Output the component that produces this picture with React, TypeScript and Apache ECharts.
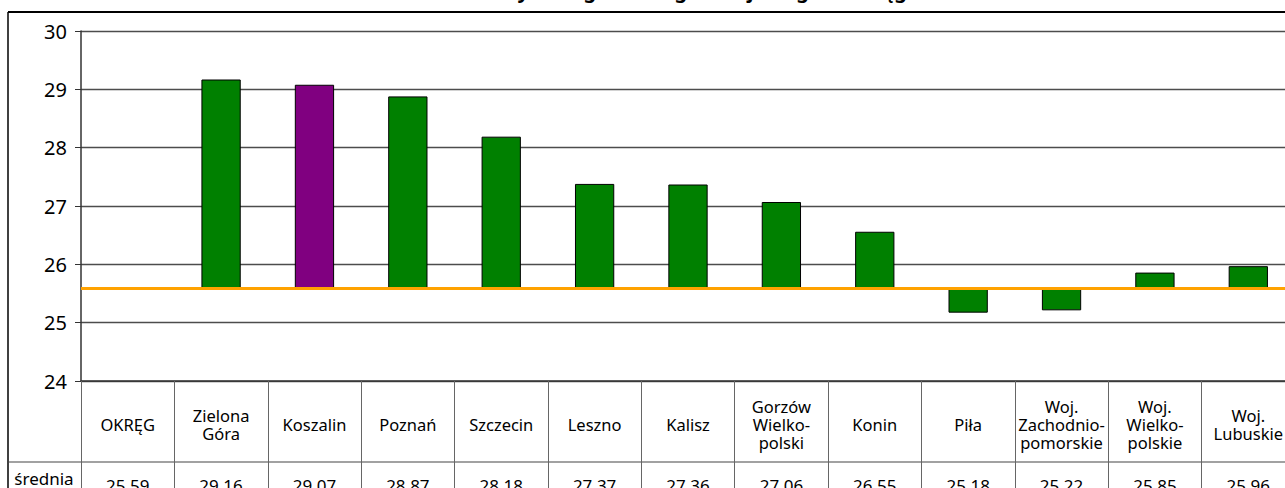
import React, { useEffect, useRef } from "react";
import * as echarts from "echarts";

const titleText = "Średnie wyniki egzaminu gimnazjalnego w okręgu";
const categories = [
  "OKRĘG",
  "Zielona\nGóra",
  "Koszalin",
  "Poznań",
  "Szczecin",
  "Leszno",
  "Kalisz",
  "Gorzów\nWielko-\npolski",
  "Konin",
  "Piła",
  "Woj.\nZachodnio-\npomorskie",
  "Woj.\nWielko-\npolskie",
  "Woj.\nLubuskie",
];
const values = [25.59, 29.16, 29.07, 28.87, 28.18, 27.37, 27.36, 27.06, 26.55, 25.18, 25.22, 25.85, 25.96];
const rowLabel = "średnia";
const highlighted = "Koszalin";
const baseline = values[0];
const yMin = 24;
const yMax = 30;
const yStep = 1;

const FONT = "Noto Sans";

export default function App() {
  const ref = useRef<HTMLDivElement>(null);
  useEffect(() => {
    if (!ref.current) return;
    const chart = echarts.init(ref.current, undefined, { renderer: "svg" });
    const data = values.map((v, i) => [i, v]);
    chart.setOption({
      animation: false,
      backgroundColor: "#fff",
      textStyle: { fontFamily: FONT },
      grid: { left: 81, right: 15, top: 31, height: 350 },
      xAxis: [
        {
          type: "category",
          data: categories,
          position: "bottom",
          axisLine: { show: true, lineStyle: { color: "#333", width: 1.5 } },
          axisTick: { show: true, alignWithLabel: false, interval: 0, length: 120, lineStyle: { color: "#666", width: 1 } },
          axisLabel: {
            interval: 0,
            margin: 43,
            verticalAlign: "middle",
            fontSize: 16.5,
            lineHeight: 18,
            color: "#000",
            fontFamily: FONT,
          },
        },
        {
          type: "category",
          data: categories,
          position: "bottom",
          axisLine: { show: false },
          axisTick: { show: false },
          axisLabel: {
            interval: 0,
            margin: 104,
            verticalAlign: "middle",
            fontSize: 17,
            color: "#000",
            fontFamily: FONT,
            formatter: (_v: string, idx: number) => values[idx].toFixed(2),
          },
        },
      ],
      yAxis: {
        type: "value",
        min: yMin,
        max: yMax,
        interval: yStep,
        axisLine: { show: true, lineStyle: { color: "#333", width: 1.5 } },
        axisTick: { show: true, length: 6, lineStyle: { color: "#333" } },
        splitLine: { show: true, lineStyle: { color: "#4d4d4d", width: 1.3 } },
        axisLabel: {
          fontSize: 20,
          color: "#000",
          margin: 14,
          fontFamily: FONT,
          padding: [8, 0, 0, 0],
        },
      },
      series: [
        {
          type: "custom",
          xAxisIndex: 0,
          data,
          renderItem: (params: any, api: any) => {
            const i = api.value(0);
            const v = api.value(1);
            const top = api.coord([i, v]);
            const base = api.coord([i, baseline]);
            const w = api.size([1, 0])[0] * 0.41;
            return {
              type: "rect",
              shape: {
                x: top[0] - w / 2,
                y: Math.min(top[1], base[1]),
                width: w,
                height: Math.abs(base[1] - top[1]),
              },
              style: {
                fill: categories[i] === highlighted ? "#800080" : "#008000",
                stroke: "#000",
                lineWidth: 1,
              },
            };
          },
          markLine: {
            silent: true,
            symbol: "none",
            label: { show: false },
            lineStyle: { color: "#FFA200", width: 3, type: "solid" },
            data: [{ yAxis: baseline }],
          },
          z: 2,
        },
      ],
      graphic: [
        {
          type: "text",
          x: 670,
          y: 0,
          style: {
            text: titleText,
            textAlign: "center",
            textVerticalAlign: "bottom",
            fontSize: 20,
            fontWeight: "bold",
            fontFamily: FONT,
            fill: "#000",
          },
        },
        { type: "line", shape: { x1: 8, y1: 12, x2: 1310, y2: 12 }, style: { stroke: "#000", lineWidth: 2 } },
        { type: "line", shape: { x1: 8, y1: 12, x2: 8, y2: 500 }, style: { stroke: "#000", lineWidth: 1.5 } },
        { type: "line", shape: { x1: 8, y1: 462, x2: 1310, y2: 462 }, style: { stroke: "#444", lineWidth: 1.2 } },
        {
          type: "text",
          x: 44,
          y: 478,
          style: {
            text: rowLabel,
            textAlign: "center",
            textVerticalAlign: "middle",
            fontSize: 17,
            fontFamily: FONT,
            fill: "#000",
          },
        },
      ],
    });
    return () => chart.dispose();
  }, []);
  return (
    <div style={{ position: "fixed", left: 0, top: 0, width: 1285, height: 488, overflow: "hidden", background: "#fff" }}>
      <div ref={ref} style={{ position: "absolute", left: 0, top: 0, width: 1310, height: 500 }} />
    </div>
  );
}
